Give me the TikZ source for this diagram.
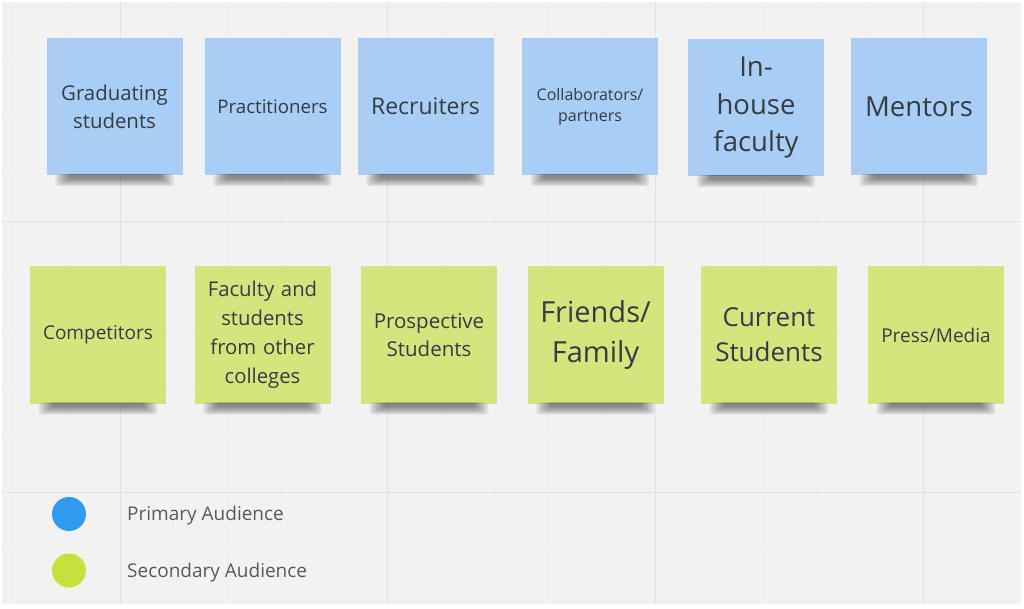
\documentclass[tikz,border=0pt]{standalone}
\usepackage{fontspec}
\setmainfont{Open Sans}
\usetikzlibrary{calc}
\definecolor{board}{HTML}{F2F2F2}
\definecolor{gridmin}{HTML}{EDEDED}
\definecolor{gridmaj}{HTML}{E2E2E2}
\definecolor{blueNote}{HTML}{A9CDF4}
\definecolor{greenNote}{HTML}{D3E57C}
\definecolor{blueDot}{HTML}{2E9BF0}
\definecolor{greenDot}{HTML}{C8E03C}
\definecolor{ink}{HTML}{363C42}
\tikzset{sticky/.style={rectangle, inner sep=2pt, minimum width=136pt, minimum height=137pt, text width=132pt, align=center, text=ink},
primary/.style={sticky, fill=blueNote},
secondary/.style={sticky, fill=greenNote},
dot/.style={circle, inner sep=0pt, minimum size=34pt},
legend/.style={right, inner sep=0pt, text=black!65, font=\fontsize{19}{22}\selectfont}}
\newcommand\noteshadow[1]{%
\foreach \i in {0,...,6}
  \fill[black, opacity=0.075, rounded corners=3pt] ($(#1.south west)+(9+2.2*\i,-1)$) rectangle ($(#1.south east)+(-9-2.2*\i,11-1.3*\i)$);}

\begin{document}
\begin{tikzpicture}[x=1pt, y=-1pt]
\fill[white] (0,0) rectangle (1024,609);
\useasboundingbox (0,0) rectangle (1024,609);
\fill[board] (2,2) rectangle (1021,604);
% grid
\foreach \gx in {12.8,66.4,173.6,227.2,280.8,334.4,441.6,495.2,548.8,602.4,709.6,763.2,816.8,870.4,977.6}
  \draw[gridmin, line width=0.8pt] (\gx,2) -- (\gx,604);
\foreach \gy in {6,60,114,168,276,330,384,438,546,600}
  \draw[gridmin, line width=0.8pt] (2,\gy) -- (1021,\gy);
\foreach \gx in {120,387,655,923}
  \draw[gridmaj, line width=1pt] (\gx,2) -- (\gx,604);
\foreach \gy in {222,492}
  \draw[gridmaj, line width=1pt] (2,\gy) -- (1021,\gy);

% primary audience
\node[primary, font=\fontsize{20.4}{28}\selectfont] (grad) at (114.5,106.5) {Graduating\\students};
\node[primary, font=\fontsize{18.7}{22}\selectfont] (pract) at (272.5,106.5) {Practitioners};
\node[primary, font=\fontsize{23}{27}\selectfont] (recr) at (425.5,106.5) {Recruiters};
\node[primary, font=\fontsize{16}{21}\selectfont] (collab) at (590,106.5) {Collaborators/\\partners};
\node[primary, font=\fontsize{27.5}{37.5}\selectfont] (inhouse) at (756,107.5) {In-\\house\\faculty};
\node[primary, font=\fontsize{27.5}{32}\selectfont] (mentor) at (919,106.5) {Mentors};

% secondary audience
\node[secondary, font=\fontsize{19}{22}\selectfont] (compet) at (98,335) {Competitors};
\node[secondary, font=\fontsize{20.3}{29}\selectfont] (faculty) at (262.5,335) {Faculty and\\students\\from other\\colleges};
\node[secondary, font=\fontsize{20.5}{28}\selectfont] (prosp) at (429,335) {Prospective\\Students};
\node[secondary, font=\fontsize{29}{40}\selectfont] (friends) at (595.5,335) {Friends/\\Family};
\node[secondary, font=\fontsize{26}{35}\selectfont] (current) at (769,335) {Current\\Students};
\node[secondary, font=\fontsize{19}{22}\selectfont] (press) at (936,335) {Press/Media};

\noteshadow{grad} \noteshadow{pract} \noteshadow{recr}
\noteshadow{collab} \noteshadow{inhouse} \noteshadow{mentor}
\noteshadow{compet} \noteshadow{faculty} \noteshadow{prosp}
\noteshadow{friends} \noteshadow{current} \noteshadow{press}

% legend
\node[dot, fill=blueDot] (pdot) at (69,514) {};
\node[dot, fill=greenDot] (sdot) at (69,570.5) {};
\node[legend] (ptext) at (127,516) {Primary Audience};
\node[legend] (stext) at (127,573) {Secondary Audience};
\end{tikzpicture}
\end{document}
